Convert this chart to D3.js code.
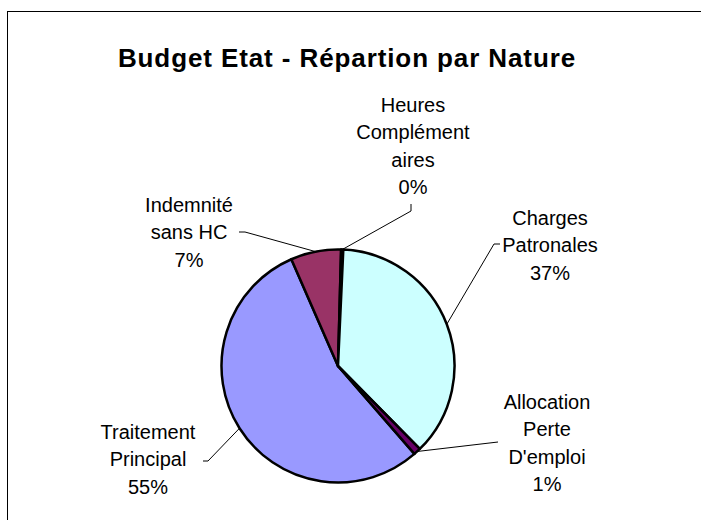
<!DOCTYPE html>
<html>
<head>
<meta charset="utf-8">
<script src="https://cdn.jsdelivr.net/npm/d3@7"></script>
<style>
  html, body { margin: 0; padding: 0; background: #fff; }
  svg { display: block; font-family: "Liberation Sans", Arial, sans-serif; }
</style>
</head>
<body>
<svg id="chart" width="701" height="520"></svg>
<script>
// Budget shares by nature (percent of the state budget)
const categories = ["Traitement Principal", "Indemnité sans HC", "Heures Complémentaires", "Charges Patronales", "Allocation Perte D'emploi"];
const shares = [55, 7, 0.3, 37, 1];
const colors = ["#9999FF", "#993366", "#FFFFCC", "#CCFFFF", "#660066"];
// Label text lines (category part), percentage appended from the data
const labelLines = [
  ["Traitement", "Principal"],
  ["Indemnité", "sans HC"],
  ["Heures", "Complément", "aires"],
  ["Charges", "Patronales"],
  ["Allocation", "Perte", "D'emploi"]
];
// Label placement: text centre x, first baseline y, leader path points before the slice edge
const labelLayout = [
  { x: 148, y: 439, leader: [[203, 461], [208, 461]] },
  { x: 189, y: 212, leader: [[239, 232], [245, 232]] },
  { x: 413, y: 112, leader: [[411, 204], [411, 211]] },
  { x: 550, y: 225, leader: [[500, 244], [494, 244]] },
  { x: 547, y: 409, leader: [[498, 442]] }
];

const svg = d3.select("#chart");
const W = 701, H = 520;

// Chart area frame
svg.append("rect")
  .attr("x", 7.5).attr("y", 11.5)
  .attr("width", W + 20).attr("height", H + 20)
  .attr("fill", "#fff").attr("stroke", "#000").attr("stroke-width", 1);

svg.append("text")
  .attr("x", 347).attr("y", 67)
  .attr("text-anchor", "middle")
  .attr("font-size", 26).attr("font-weight", "bold")
  .attr("letter-spacing", 0.9)
  .text("Budget Etat - Répartion par Nature");

const cx = 338, cy = 366, r = 116.5;
const start = 139 * Math.PI / 180;
const pie = d3.pie().sort(null).startAngle(start).endAngle(start + 2 * Math.PI);
const arcs = pie(shares);
const arc = d3.arc().innerRadius(0).outerRadius(r);
const total = d3.sum(shares);

const g = svg.append("g").attr("transform", `translate(${cx},${cy})`);
g.selectAll("path.slice")
  .data(arcs)
  .join("path")
  .attr("class", "slice")
  .attr("d", arc)
  .attr("fill", (d, i) => colors[i])
  .attr("stroke", "#000")
  .attr("stroke-width", 2.5)
  .attr("stroke-linejoin", "round");

// Leader lines from labels to slice edge at mid-angle
const line = d3.line();
arcs.forEach((d, i) => {
  const mid = (d.startAngle + d.endAngle) / 2;
  const edge = [cx + r * Math.sin(mid), cy - r * Math.cos(mid)];
  const pts = labelLayout[i].leader.concat([edge]);
  svg.append("path")
    .attr("d", line(pts))
    .attr("fill", "none")
    .attr("stroke", "#000")
    .attr("stroke-width", 1);
});

// Data labels
const lh = 27.3;
arcs.forEach((d, i) => {
  const lines = labelLines[i].concat([Math.round(d.data / total * 100) + "%"]);
  const t = svg.append("text")
    .attr("text-anchor", "middle")
    .attr("font-size", 20)
    .attr("fill", "#000");
  lines.forEach((s, k) => {
    t.append("tspan")
      .attr("x", labelLayout[i].x)
      .attr("y", labelLayout[i].y + k * lh)
      .text(s);
  });
});
</script>
</body>
</html>
